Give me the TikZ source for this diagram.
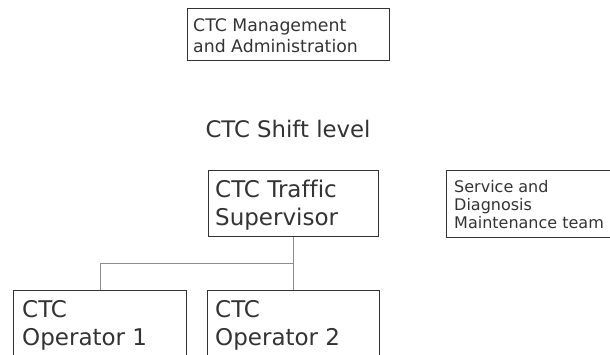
\documentclass[tikz,border=0pt]{standalone}
\usepackage{fontspec}
\setmainfont[Ligatures=CommonOff]{DejaVu Sans}
\definecolor{ink}{HTML}{333333}
\definecolor{wire}{HTML}{8C8C8C}
\begin{document}
\begin{tikzpicture}[x=1pt,y=-1pt,
  box/.style={draw=ink,line width=1pt,inner sep=0pt},
  label/.style={text=ink,anchor=base west,inner sep=0pt,align=left},
  small/.style={font=\fontsize{16}{18.3}\selectfont},
  mid/.style={font=\fontsize{17.3}{21}\selectfont},
  big/.style={font=\fontsize{23}{28}\selectfont},
  wireline/.style={draw=wire,line width=1pt}]
\useasboundingbox (0,0) rectangle (610,354);
\clip (0,0) rectangle (610,354);

% boxes
\node[box,anchor=north west,minimum width=202pt,minimum height=52pt] (mgmt) at (187,8) {};
\node[box,anchor=north west,minimum width=170pt,minimum height=66pt] (sup) at (208,170) {};
\node[box,anchor=north west,minimum width=168pt,minimum height=67pt] (svc) at (446,170) {};
\node[box,anchor=north west,minimum width=173pt,minimum height=80pt] (op1) at (13,290) {};
\node[box,anchor=north west,minimum width=172pt,minimum height=80pt] (op2) at (207,290) {};

% texts
\node[label,mid] (mgmtA) at (193,31) {CTC Management};
\node[label,mid] (mgmtB) at (193,52) {and Administration};
\node[text=ink,anchor=base,inner sep=0pt,font=\fontsize{22.8}{26}\selectfont] (shift) at (288,137) {CTC Shift level};
\node[label,big] (supA) at (215,197) {CTC Traffic};
\node[label,big] (supB) at (215,225) {Supervisor};
\node[label,small] (svcA) at (454,192) {Service and};
\node[label,small] (svcB) at (454,210) {Diagnosis};
\node[label,small] (svcC) at (454,228) {Maintenance team};
\node[label,big] (op1A) at (22,317) {CTC};
\node[label,big] (op1B) at (22,345) {Operator 1};
\node[label,big] (op2A) at (215,317) {CTC};
\node[label,big] (op2B) at (215,345) {Operator 2};

% connectors
\coordinate (bus) at (sup.south |- 0,263);
\draw[wireline] (sup.south) -- (op2.north);
\draw[wireline] (op1.north) |- (bus);
\end{tikzpicture}
\end{document}
